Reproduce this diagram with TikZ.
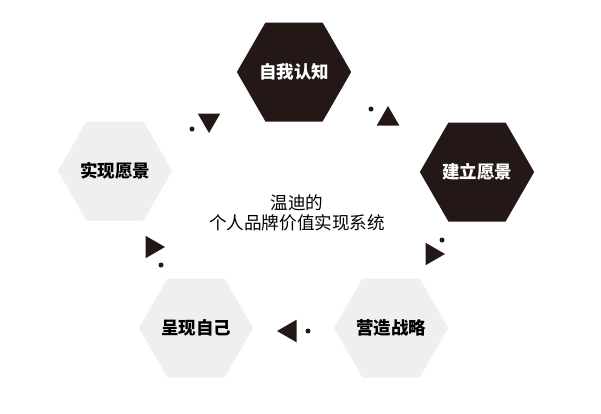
\documentclass[tikz,border=0pt]{standalone}
\usepackage{fontspec}
\newfontfamily\cjk{Noto Sans CJK SC}
\usetikzlibrary{shapes.geometric}
\definecolor{hexblack}{HTML}{231815}
\definecolor{hexgray}{HTML}{EFEFEF}
\begin{document}
\begin{tikzpicture}[x=1pt,y=-1pt,
    hex/.style={regular polygon,regular polygon sides=6,minimum size=111pt,inner sep=0pt,
      font=\cjk\bfseries\fontsize{17.5}{20}\selectfont},
    hexdark/.style={hex,fill=hexblack,text=white},
    hexlight/.style={hex,fill=hexgray,text=black},
    tri/.style={regular polygon,regular polygon sides=3,minimum size=26pt,inner sep=0pt,fill=hexblack},
    dot/.style={circle,minimum size=5pt,inner sep=0pt,fill=hexblack}]
      \useasboundingbox (0,0) rectangle (601,413);
      \draw
        (294,72) node[hexdark] (0){自我认知}
        (477,172) node[hexdark] (1){建立愿景}
        (391,328) node[hexlight] (2){营造战略}
        (196,328) node[hexlight] (3){呈现自己}
        (115,171) node[hexlight] (4){实现愿景};
      \node[align=center,font=\cjk\fontsize{17.6}{20}\selectfont] (c) at (297,213) {温迪的\\个人品牌价值实现系统};
      \begin{scope}
        \node[tri] (t0) at (388,119) {};
        \node[tri,shape border rotate=-90] (t1) at (432,254) {};
        \node[tri,shape border rotate=90] (t2) at (290,331) {};
        \node[tri,shape border rotate=-90] (t3) at (152,247) {};
        \node[tri,shape border rotate=180] (t4) at (209,120) {};
        \node[dot] (d0) at (371,109) {};
        \node[dot] (d1) at (442,240) {};
        \node[dot] (d2) at (308,331) {};
        \node[dot] (d3) at (161,265) {};
        \node[dot] (d4) at (192,129) {};
      \end{scope}
    \end{tikzpicture}
\end{document}
